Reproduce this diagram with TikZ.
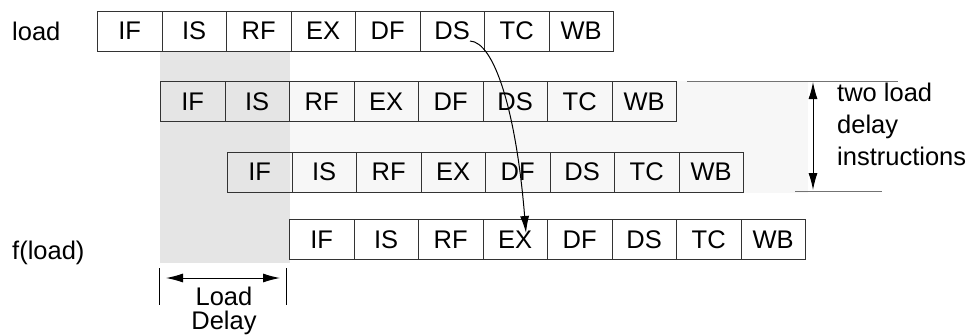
\documentclass[tikz,border=0pt]{standalone}
\usepackage{fontspec}
\setmainfont{Liberation Sans}
\usetikzlibrary{positioning,arrows.meta}

\begin{document}
\begin{tikzpicture}[x=1pt,y=-1pt,
    >={Latex[length=17pt,width=9pt]},
    stagebox/.style={rectangle, draw=black!80, line width=0.9pt, minimum width=64.5pt, minimum height=40pt, inner sep=0pt, anchor=west, font=\fontsize{25.5}{30}\selectfont},
    rowtext/.style={anchor=west, inner sep=0pt, font=\fontsize{25.5}{30}\selectfont},
    ]
    \useasboundingbox (0,0) rectangle (977,335);

    %Shading
    \fill[black!10] (160,51) rectangle (290,263);
    \fill[black!3] (290,81) rectangle (808,193);

    %Pipeline rows
    \foreach \r/\x/\y in {1/97/31, 2/160/101.5, 3/227/172, 4/289/239.5} {
        \foreach \s [count=\c] in {IF,IS,RF,EX,DF,DS,TC,WB}
            \node[stagebox] (s\r-\c) at ({\x+(\c-1)*64.5},\y) {\s};
    }

    %Labels
    \node[rowtext] (load) at (12,31) {load};
    \node[rowtext] (fload) at (12,253) {f(load)};
    \node[rowtext, anchor=north west, align=left, font=\fontsize{25.5}{32}\selectfont] (twoload) at (837,83) {two load\\delay\\instructions};
    \node[rowtext, anchor=north, align=center, font=\fontsize{25.5}{24}\selectfont] (lddelay) at (224,287) {Load\\Delay};

    %Forwarding curve
    \coordinate (dsout) at (470,41);
    \coordinate (exin) at (526,233);
    \draw[line width=1pt, ->] (dsout) .. controls (494,42) and (516,110) .. (exin);

    %Two load delay marker
    \draw[black!55, line width=1pt] (687,81) -- (898,81);
    \draw[black!55, line width=1pt] (795,191) -- (882,191);
    \coordinate (dtop) at (813,82);
    \coordinate (dbot) at (813,190);
    \draw[line width=1pt, <->] (dtop) -- (dbot);

    %Load delay marker
    \draw[line width=0.9pt] (159,268) -- (159,305);
    \draw[line width=0.9pt] (286,268) -- (286,305);
    \coordinate (ldl) at (166,278);
    \coordinate (ldr) at (280,278);
    \draw[line width=1pt, <->] (ldl) -- (ldr);

\end{tikzpicture}
\end{document}
